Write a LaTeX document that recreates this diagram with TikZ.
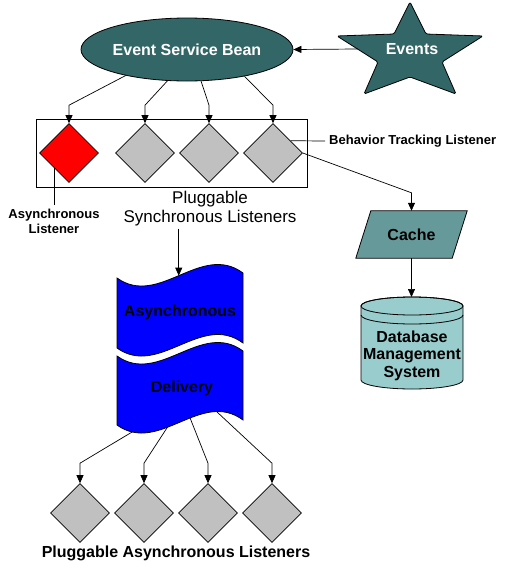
\documentclass[tikz,border=0pt]{standalone}
\usepackage{fontspec}
\setmainfont{Liberation Sans}
\usetikzlibrary{shapes.geometric,arrows.meta}
\definecolor{dteal}{HTML}{336666}
\definecolor{mteal}{HTML}{669999}
\definecolor{lteal}{HTML}{99CCCC}
\definecolor{lgray}{HTML}{C0C0C0}
\definecolor{pureblue}{HTML}{0000FF}
\definecolor{purered}{HTML}{FF0000}
\begin{document}
\begin{tikzpicture}[x=1pt,y=-1pt,
  conn/.style={line width=0.7pt},
  arr/.style={conn,-{Triangle[length=8pt,width=7pt]}},
  dia/.style={shape=diamond,draw,line width=0.6pt,minimum width=59pt,minimum height=59pt,inner sep=0pt,fill=lgray},
  bigbold/.style={font=\fontsize{16}{17.5}\selectfont\bfseries},
  smallbold/.style={font=\fontsize{13}{15}\selectfont\bfseries},
  outl/.style={draw,line width=0.8pt}]
\useasboundingbox (0,0) rectangle (513,568);

% Event Service Bean
\node[ellipse,outl,fill=dteal,text=white,bigbold,minimum width=212pt,minimum height=63pt,inner sep=0pt] (esb) at (187,49.5) {Event Service Bean};

% Star
\path[outl,fill=dteal,rounded corners=1.5pt] (410,2) -- (426,34) -- (483,36) -- (442,62) -- (456,94) -- (410,77) -- (364,94) -- (378,62) -- (337,36) coordinate[pos=0.5] (stl) -- (394,34) -- cycle;
\node[bigbold,text=white] (ev) at (412,49) {Events};
\draw[arr] (stl) -- (esb.east);

% Synchronous listener box
\node[outl,minimum width=271pt,minimum height=68pt,inner sep=0pt] (box) at (171.5,153) {};
\node[dia,fill=purered] (d1) at (69,153) {};
\node[dia] (d2) at (145,153) {};
\node[dia] (d3) at (209,153) {};
\node[dia] (d4) at (273,153) {};

\draw[arr] (esb.203) -- ([yshift=18pt]d1.north) -- (d1.north);
\draw[arr] (esb.238) -- ([yshift=18pt]d2.north) -- (d2.north);
\draw[arr] (esb.294) -- ([yshift=18pt]d3.north) -- (d3.north);
\draw[arr] (esb.335) -- ([yshift=18pt]d4.north) -- (d4.north);

% labels
\node[smallbold,anchor=west,inner sep=0pt] (btl) at (329,141) {Behavior Tracking Listener};
\draw[conn] (d4.35) -- ([xshift=-4pt]btl.west);
\node[smallbold,align=center,anchor=north,inner sep=0pt] (aln) at (54,209) {Asynchronous\\Listener};
\draw[conn] ([yshift=4pt]aln.north) -- (aln.north |- d1.220);
\node[font=\fontsize{17}{19}\selectfont,align=center,inner sep=2pt] (psl) at (210,209) {Pluggable\\Synchronous Listeners};

% Cache
\node[bigbold,minimum width=96pt,minimum height=47pt,inner sep=0pt] (cache) at (411.5,234.5) {};
\path[outl,fill=mteal] ([xshift=-7.5pt]cache.south west) -- ([xshift=7.5pt]cache.north west) -- ([xshift=7.5pt]cache.north east) -- ([xshift=-7.5pt]cache.south east) -- cycle;
\node[bigbold] (cachet) at (cache.center) {Cache};
\draw[arr] (d4.east) -- ([yshift=18pt]cache.north) -- (cache.north);

% Database
\path[outl,fill=lteal] (361,306) -- (361,380) arc[start angle=180,end angle=360,x radius=51pt,y radius=9pt] -- (463,306) arc[start angle=0,end angle=180,x radius=51pt,y radius=9pt] -- cycle;
\draw[line width=0.8pt] (412,306) ellipse[x radius=51pt,y radius=9pt];
\draw[line width=0.8pt] (361,315) arc[start angle=180,end angle=360,x radius=51pt,y radius=9pt];
\coordinate (dbtop) at (411.5,297);
\node[bigbold,align=center] (dbt) at (412,355.5) {Database\\Management\\System};
\draw[arr] (cache.south) -- (dbtop);

% Asynchronous delivery
\path[outl,fill=pureblue] (117,278) .. controls (159,308) and (201,242) .. (243,273) coordinate[pos=0.49] (tin) -- (243,343) .. controls (201,312) and (159,378) .. (117,348) -- cycle;
\path[outl,fill=pureblue] (117,425) .. controls (159,455) and (201,389) .. (243,420) coordinate[pos=0.12] (w1) coordinate[pos=0.40] (w2) coordinate[pos=0.58] (w3) coordinate[pos=0.79] (w4) -- (243,351) .. controls (201,320) and (159,386) .. (117,356) -- cycle;
\node[bigbold] (asy) at (180,312) {Asynchronous};
\node[bigbold] (del) at (182,388) {Delivery};
\draw[arr] (psl.south -| tin) -- (tin);

% Asynchronous listeners
\node[dia] (a1) at (80,513) {};
\node[dia] (a2) at (144,513) {};
\node[dia] (a3) at (208,513) {};
\node[dia] (a4) at (272,513) {};
\draw[arr] (w1) -- ([yshift=20pt]a1.north) -- (a1.north);
\draw[arr] (w2) -- ([yshift=20pt]a2.north) -- (a2.north);
\draw[arr] (w3) -- ([yshift=20pt]a3.north) -- (a3.north);
\draw[arr] (w4) -- ([yshift=20pt]a4.north) -- (a4.north);
\node[bigbold] (pal) at (176,553) {Pluggable Asynchronous Listeners};
\end{tikzpicture}
\end{document}
